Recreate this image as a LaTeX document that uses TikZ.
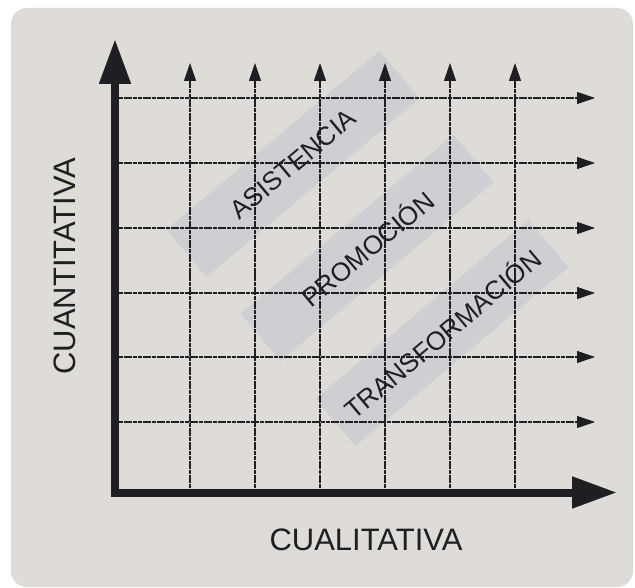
\documentclass[tikz,border=0pt]{standalone}
\usepackage{fontspec}
\setmainfont{Liberation Sans}
\usetikzlibrary{arrows.meta}
\definecolor{bgc}{RGB}{223,219,214}
\definecolor{bandc}{RGB}{205,207,210}
\definecolor{inkc}{RGB}{30,31,34}
\tikzset{
  bandbox/.style={fill=bandc, draw=none, rotate=40, minimum width=278pt, minimum height=62pt, inner sep=0pt},
  bandtext/.style={rotate=40, inner sep=0pt, font=\fontsize{26}{26}\selectfont, text=inkc},
  gridline/.style={draw=inkc, line width=1.1pt, dash pattern=on 4pt off 0.7pt, -{Triangle[length=18pt,width=12pt]}},
  axisline/.style={draw=inkc, line width=8pt, line join=miter, {Triangle[length=45pt,width=30pt]}-{Triangle[length=45pt,width=30pt]}},
  axislabel/.style={font=\fontsize{31}{31}\selectfont, text=inkc, inner sep=0pt}
}
\begin{document}
\begin{tikzpicture}[x=1pt,y=-1pt]
\useasboundingbox (0,0) rectangle (635,588);
\fill[bgc, rounded corners=16pt] (11,8) rectangle (633,587);
% bands
\node[bandbox] (asis) at (293,164) {};
\node[bandbox] (promo) at (367,248) {};
\node[bandbox] (trans) at (442,333) {};
% grid coordinates
\foreach \i/\x in {1/190,2/255,3/320,4/385,5/450,6/515}{
  \coordinate (vb\i) at (\x,488);
  \coordinate (vt\i) at (\x,63);
}
\foreach \i/\y in {1/98,2/163,3/228,4/293,5/357,6/422}{
  \coordinate (hl\i) at (119,\y);
  \coordinate (hr\i) at (595,\y);
}
\foreach \i in {1,...,6}{
  \draw[gridline] (vb\i) -- (vt\i);
  \draw[gridline] (hl\i) -- (hr\i);
}
% texts on top of grid
\node[bandtext] (asist) at (asis.center) {ASISTENCIA};
\node[bandtext] (promot) at (promo.center) {PROMOCIÓN};
\node[bandtext] (transt) at (trans.center) {TRANSFORMACIÓN};
% axes
\coordinate (ytip) at (115,39);
\coordinate (origin) at (115,492.5);
\coordinate (xtip) at (617,492.5);
\draw[axisline] (ytip) -- (origin) -- (xtip);
\node[axislabel, rotate=90] (ylab) at (65,266) {CUANTITATIVA};
\node[axislabel] (xlab) at (366,540) {CUALITATIVA};
\end{tikzpicture}
\end{document}
